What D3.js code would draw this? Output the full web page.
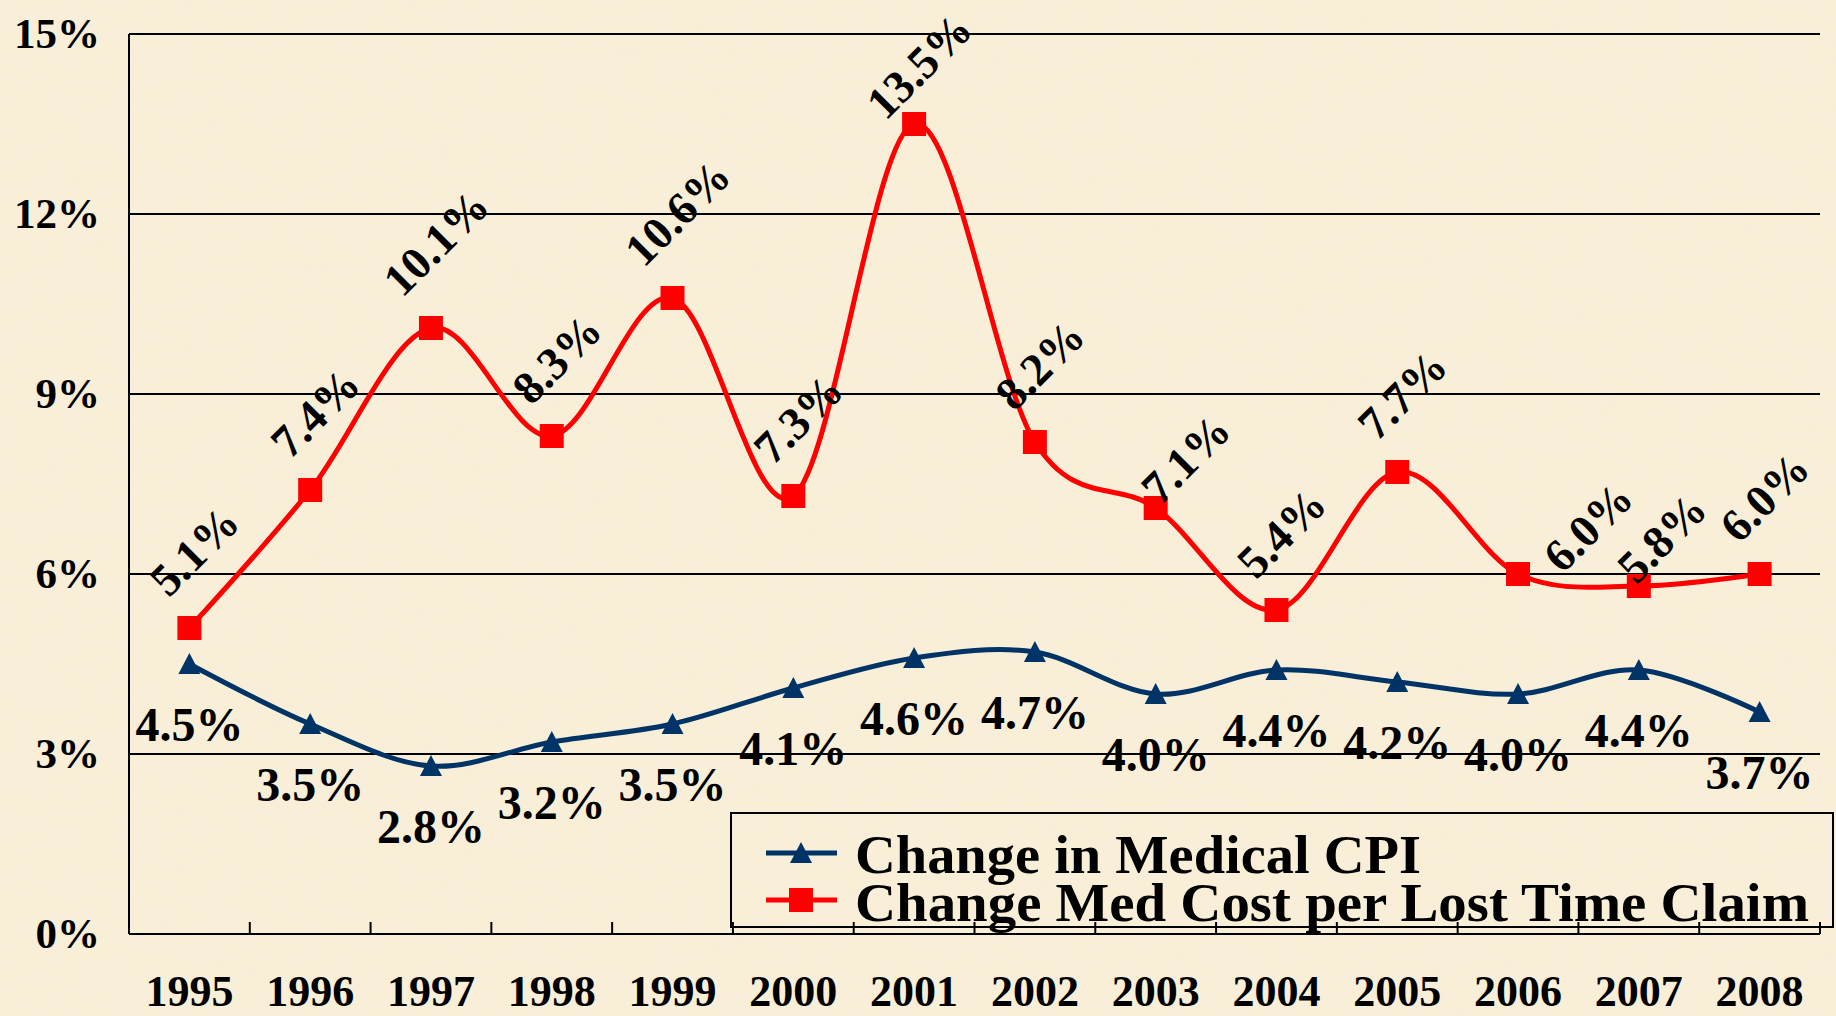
<!DOCTYPE html>
<html>
<head>
<meta charset="utf-8">
<script src="https://cdn.jsdelivr.net/npm/d3@7"></script>
<style>
  html, body { margin: 0; padding: 0; background: #F9EFD8; }
  svg { display: block; }
  text { font-family: "Liberation Serif", "Times New Roman", serif; font-weight: bold; fill: #000; }
</style>
</head>
<body>
<svg id="chart" width="1836" height="1016"></svg>
<script>
// ---------- DATA ----------
const years = ["1995","1996","1997","1998","1999","2000","2001","2002","2003","2004","2005","2006","2007","2008"];
const medicalCPI = [4.5, 3.5, 2.8, 3.2, 3.5, 4.1, 4.6, 4.7, 4.0, 4.4, 4.2, 4.0, 4.4, 3.7];
const medCostPerClaim = [5.1, 7.4, 10.1, 8.3, 10.6, 7.3, 13.5, 8.2, 7.1, 5.4, 7.7, 6.0, 5.8, 6.0];
const yTicks = [0, 3, 6, 9, 12, 15];
const seriesNames = ["Change in Medical CPI", "Change Med Cost per Lost Time Claim"];

// ---------- LAYOUT ----------
const W = 1836, H = 1016;
const plot = { left: 129, right: 1820, top: 34, bottom: 934 };
const bg = "#F9EFD8";
const navy = "#003366", red = "#FF0000";
// manual nudges of some rotated labels (as placed in the original chart)
const costLabelNudge = { "2003": [25, 28], "2006": [65, 30], "2007": [18, 29] };

const svg = d3.select("#chart");
const defs = svg.append("defs");
const f = defs.append("filter").attr("id", "parch").attr("x", 0).attr("y", 0).attr("width", "100%").attr("height", "100%");
f.append("feTurbulence").attr("type", "fractalNoise").attr("baseFrequency", "0.012 0.02").attr("numOctaves", 3).attr("seed", 7).attr("result", "n");
f.append("feColorMatrix").attr("in", "n").attr("type", "matrix")
  .attr("values", "0 0 0 0 0.93  0 0 0 0 0.86  0 0 0 0 0.68  1.2 0 0 0 -0.45");

svg.append("rect").attr("width", W).attr("height", H).attr("fill", bg);
svg.append("rect").attr("width", W).attr("height", H).attr("filter", "url(#parch)").attr("opacity", 0.35);

const x = d3.scaleBand().domain(years).range([plot.left, plot.right]).padding(0);
const y = d3.scaleLinear().domain([0, 15]).range([plot.bottom, plot.top]);
const xc = d => x(d) + x.bandwidth() / 2;

// gridlines
svg.append("g").selectAll("line").data(yTicks.filter(t => t > 0)).join("line")
  .attr("x1", plot.left).attr("x2", plot.right)
  .attr("y1", d => y(d)).attr("y2", d => y(d))
  .attr("stroke", "#000").attr("stroke-width", 2);

// y axis
const yAxis = svg.append("g").attr("transform", `translate(${plot.left},0)`)
  .call(d3.axisLeft(y).tickValues(yTicks).tickFormat(d => d + "%").tickSize(0).tickPadding(29));
yAxis.select(".domain").remove();
yAxis.selectAll("text").attr("font-size", 43).attr("font-family", null);
svg.append("line").attr("x1", plot.left).attr("x2", plot.left)
  .attr("y1", plot.top).attr("y2", plot.bottom).attr("stroke", "#000").attr("stroke-width", 2);

// legend box (behind axis ticks)
const legend = svg.append("g");
legend.append("rect").attr("x", 731).attr("y", 813).attr("width", 1102).attr("height", 114)
  .attr("fill", "none").attr("stroke", "#000").attr("stroke-width", 2);

// x axis
svg.append("line").attr("x1", plot.left).attr("x2", plot.right)
  .attr("y1", plot.bottom).attr("y2", plot.bottom).attr("stroke", "#000").attr("stroke-width", 2);
const boundaries = years.slice(1).map(d => x(d)).concat([x.range()[1]]);
svg.append("g").selectAll("line").data(boundaries).join("line")
  .attr("x1", d => d).attr("x2", d => d)
  .attr("y1", plot.bottom).attr("y2", plot.bottom - 12)
  .attr("stroke", "#000").attr("stroke-width", 2);
const xAxis = svg.append("g").attr("transform", `translate(0,${plot.bottom})`)
  .call(d3.axisBottom(x).tickSize(0).tickPadding(0));
xAxis.select(".domain").remove();
xAxis.selectAll("text").attr("font-size", 44).attr("font-family", null)
  .attr("y", 72).attr("dy", null);

// lines
const line = d3.line().x((d, i) => xc(years[i])).y(d => y(d)).curve(d3.curveCardinal.tension(0));
svg.append("path").datum(medicalCPI).attr("d", line)
  .attr("fill", "none").attr("stroke", navy).attr("stroke-width", 5).attr("stroke-linejoin", "round");
svg.append("path").datum(medCostPerClaim).attr("d", line)
  .attr("fill", "none").attr("stroke", red).attr("stroke-width", 5).attr("stroke-linejoin", "round");

// markers
const tri = "M0,-11L11,10L-11,10Z";
svg.append("g").selectAll("path").data(medicalCPI).join("path")
  .attr("d", tri).attr("fill", navy)
  .attr("transform", (d, i) => `translate(${xc(years[i])},${y(d)})`);
svg.append("g").selectAll("rect").data(medCostPerClaim).join("rect")
  .attr("x", (d, i) => xc(years[i]) - 12).attr("y", d => y(d) - 12)
  .attr("width", 24).attr("height", 24).attr("fill", red);

// CPI labels (below)
svg.append("g").selectAll("text").data(medicalCPI).join("text")
  .attr("x", (d, i) => xc(years[i])).attr("y", d => y(d) + 77)
  .attr("text-anchor", "middle").attr("font-size", 48)
  .text(d => d.toFixed(1) + "%");

// Cost labels (rotated, above)
const fsR = 46;
const costG = svg.append("g");
medCostPerClaim.forEach((d, i) => {
  const g = costG.append("g");
  const t = g.append("text").attr("text-anchor", "middle").attr("font-size", fsR)
    .attr("dy", "0.34em").text(d.toFixed(1) + "%");
  const L = t.node().getComputedTextLength();
  const h = (L + 0.68 * fsR) * Math.SQRT1_2;
  const nudge = costLabelNudge[years[i]] || [0, 0];
  let cx = xc(years[i]) + 5 + nudge[0];
  let cy = y(d) - (h / 2 + 29.5) + nudge[1];
  cy = Math.max(cy, 10 + h / 2);
  g.attr("transform", `translate(${cx},${cy}) rotate(-45)`);
});

// legend entries
const legendRows = [
  { name: seriesNames[0], color: navy, shape: "tri", ly: 853, ty: 873, len: 566 },
  { name: seriesNames[1], color: red, shape: "sq", ly: 900, ty: 921, len: 954 }
];
legendRows.forEach(r => {
  legend.append("line").attr("x1", 766).attr("x2", 837).attr("y1", r.ly).attr("y2", r.ly)
    .attr("stroke", r.color).attr("stroke-width", 5);
  if (r.shape === "tri") {
    legend.append("path").attr("d", tri).attr("fill", r.color)
      .attr("transform", `translate(801,${r.ly})`);
  } else {
    legend.append("rect").attr("x", 789).attr("y", r.ly - 12).attr("width", 24).attr("height", 24)
      .attr("fill", r.color);
  }
  legend.append("text").attr("x", 855).attr("y", r.ty).attr("font-size", 55)
    .attr("textLength", r.len).attr("lengthAdjust", "spacingAndGlyphs")
    .text(r.name);
});
</script>
</body>
</html>
